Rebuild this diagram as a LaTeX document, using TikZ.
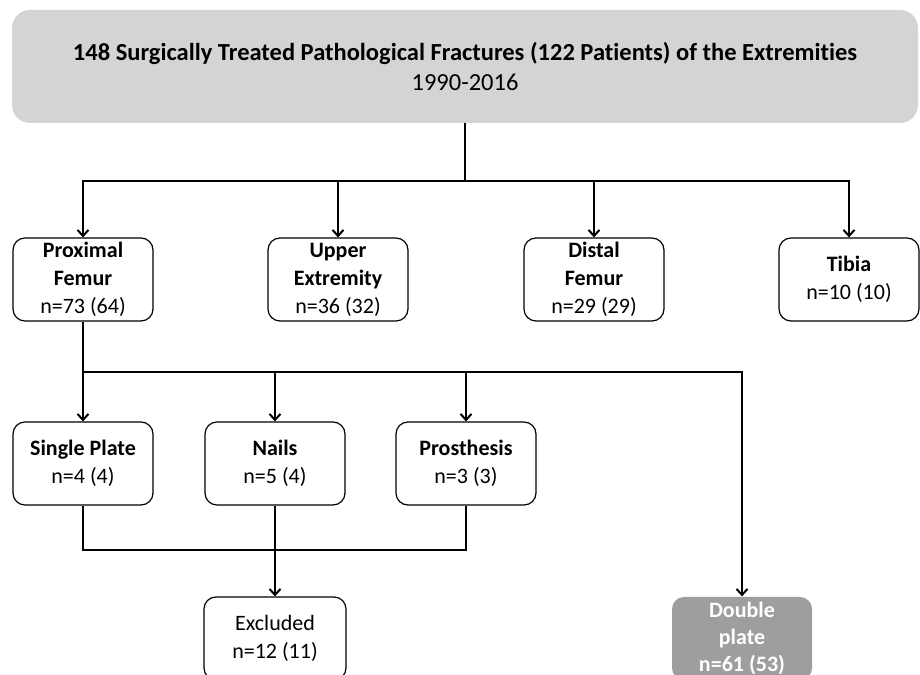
\documentclass[tikz,border=0pt]{standalone}
\usepackage{fontspec}
\setmainfont{Carlito}[Ligatures=NoCommon]
\usepackage{tikz}
\usetikzlibrary{arrows.meta,positioning}
\definecolor{headgray}{RGB}{212,212,212}
\definecolor{plategray}{RGB}{158,158,158}
\tikzset{%
	block/.style    = {draw, rounded corners=12pt, line width=1.2pt, minimum width=140pt, minimum height=83pt, align=center, font=\fontsize{22}{28}\selectfont},
	header/.style   = {fill=headgray, rounded corners=18pt, minimum width=906pt, minimum height=113pt, align=center, font=\fontsize{24.5}{30}\selectfont}, % Title
	dark/.style     = {block, draw=none, fill=plategray, text=white, font=\fontsize{22}{27}\selectfont\bfseries}, % Highlighted
	line/.style     = {line width=2.6pt},
	arrow/.style    = {line, -{Straight Barb[length=6pt,width=11pt,line width=2pt]}},
}
\begin{document}
\begin{tikzpicture}[x=1pt,y=1pt,node distance=255pt]
	\clip (0,0) rectangle (920,674);
	\node[header] (top) at (465,607.5) {\textbf{148 Surgically Treated Pathological Fractures (122 Patients) of the Extremities}\\1990-2016};
	\node[block] (pf) at (83,394.5) {\textbf{Proximal}\\\textbf{Femur}\\n=73 (64)};
	\node[block,right of=pf] (ue) {\textbf{Upper}\\\textbf{Extremity}\\n=36 (32)};
	\node[block,right of=ue,node distance=256pt] (df) {\textbf{Distal}\\\textbf{Femur}\\n=29 (29)};
	\node[block,right of=df] (tib) {\textbf{Tibia}\\n=10 (10)};
	\node[block,below of=pf,node distance=184pt] (sp) {\textbf{Single Plate}\\n=4 (4)};
	\node[block,right of=sp,node distance=192pt] (nails) {\textbf{Nails}\\n=5 (4)};
	\node[block,right of=nails,node distance=191pt] (pros) {\textbf{Prosthesis}\\n=3 (3)};
	\node[block,below of=nails,node distance=175pt,minimum width=142pt] (excl) {Excluded\\n=12 (11)};
	\node[dark,right of=excl,node distance=467pt] (dp) {Double\\plate\\n=61 (53)};
	\coordinate (bus) at (465,493);
	\coordinate (split) at (83,302);
	\coordinate (join) at (275,124);
	% sites
	\draw[line] (top) -- (bus);
	\foreach \site in {pf,ue,df,tib}
		\draw[arrow] (bus) -| (\site);
	% proximal femur fixation
	\draw[arrow] (pf) -- (sp);
	\foreach \fix in {nails,pros,dp}
		\draw[arrow] (split) -| (\fix);
	\draw[line] (sp) |- (join);
	\draw[line] (pros) |- (join);
	\draw[arrow] (nails) -- (excl);
\end{tikzpicture}
\end{document}
